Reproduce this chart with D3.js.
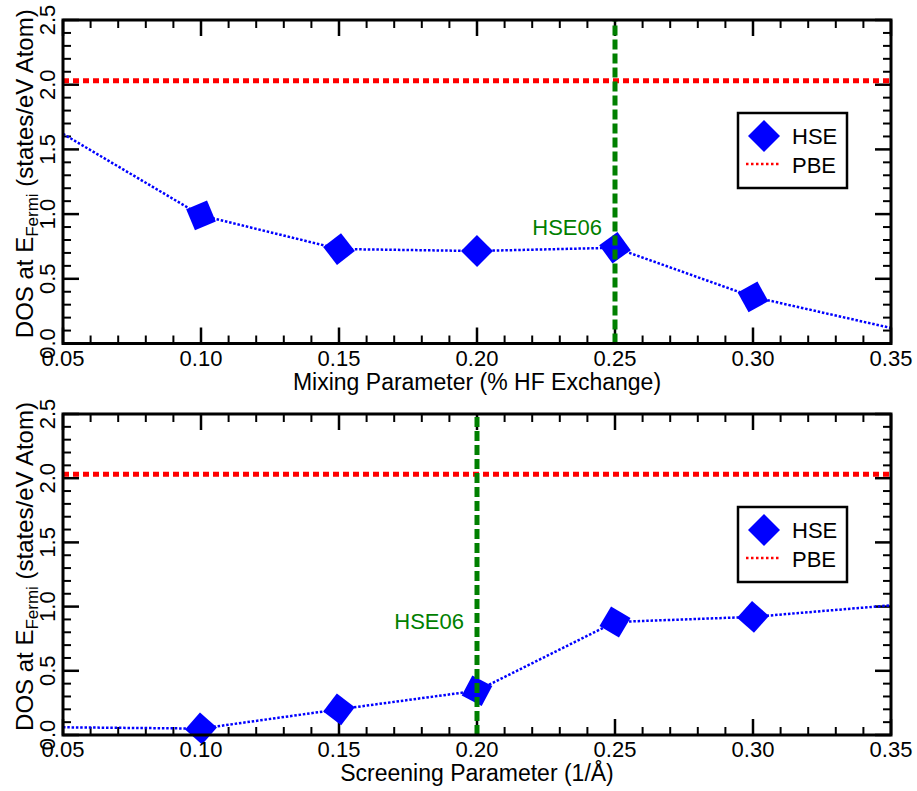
<!DOCTYPE html>
<html>
<head>
<meta charset="utf-8">
<script src="https://cdn.jsdelivr.net/npm/d3@7"></script>
<style>
  html, body { margin: 0; padding: 0; background: #fff; }
  svg { display: block; font-family: "Liberation Sans", Arial, Helvetica, sans-serif; }
</style>
</head>
<body>
<svg id="chart" width="917" height="791"></svg>
<script>
// Parameter values shared by both scans
const xValues = [0.05, 0.10, 0.15, 0.20, 0.25, 0.30, 0.35];
// DOS at the Fermi level, HSE, vs mixing parameter
const hseMixing = [1.62, 0.99, 0.73, 0.715, 0.74, 0.36, 0.12];
// DOS at the Fermi level, HSE, vs screening parameter
const hseScreening = [0.06, 0.05, 0.20, 0.345, 0.88, 0.92, 1.01];
// PBE reference level
const pbeMixing = 2.03;
const pbeScreening = 2.03;
// HSE06 standard settings
const hse06Mixing = 0.25;
const hse06Screening = 0.20;
// Axis ticks
const xMajorTicks = [0.05, 0.10, 0.15, 0.20, 0.25, 0.30, 0.35];
const yMajorTicks = [0.0, 0.5, 1.0, 1.5, 2.0, 2.5];
const xTickLabels = ["0.05", "0.10", "0.15", "0.20", "0.25", "0.30", "0.35"];
const yTickLabels = ["0.0", "0.5", "1.0", "1.5", "2.0", "2.5"];
const seriesNames = ["HSE", "PBE"];
const markerLabel = "HSE06";

const svg = d3.select("#chart");
const BLUE = "#0000ff", RED = "#ff0000", GREEN = "#008000";

const left = 63, right = 891;

function drawPanel(cfg) {
  const x = d3.scaleLinear().domain([0.05, 0.35]).range([left, right]);
  const y = d3.scaleLinear().domain([0, 2.5]).range([cfg.bottom, cfg.top]);
  const g = svg.append("g");

  // minor / major tick sets
  const xMinor = d3.range(5, 36).map(d => d / 100);
  const yMinor = d3.range(0, 26).map(d => d / 10);

  const ticks = g.append("g").attr("stroke", "#000");
  // bottom + top ticks (inward)
  xMinor.forEach(v => {
    const major = xMajorTicks.some(m => Math.abs(m - v) < 1e-9);
    const len = major ? 16 : 8;
    ticks.append("line").attr("x1", x(v)).attr("x2", x(v))
      .attr("y1", y(0)).attr("y2", y(0) - len).attr("stroke-width", major ? 2.5 : 2);
    ticks.append("line").attr("x1", x(v)).attr("x2", x(v))
      .attr("y1", y(2.5)).attr("y2", y(2.5) + len).attr("stroke-width", major ? 2.5 : 2);
  });
  yMinor.forEach(v => {
    const major = yMajorTicks.some(m => Math.abs(m - v) < 1e-9);
    const len = major ? 16 : 8;
    ticks.append("line").attr("y1", y(v)).attr("y2", y(v))
      .attr("x1", x(0.05)).attr("x2", x(0.05) + len).attr("stroke-width", major ? 2.5 : 2);
    ticks.append("line").attr("y1", y(v)).attr("y2", y(v))
      .attr("x1", x(0.35)).attr("x2", x(0.35) - len).attr("stroke-width", major ? 2.5 : 2);
  });

  // PBE reference line
  g.append("line")
    .attr("x1", x(0.05)).attr("x2", x(0.35))
    .attr("y1", y(cfg.pbe)).attr("y2", y(cfg.pbe))
    .attr("stroke", RED).attr("stroke-width", 5)
    .attr("stroke-dasharray", "6,4");

  // HSE curve
  const pts = xValues.map((v, i) => [x(v), y(cfg.hse[i])]);
  g.append("path")
    .attr("d", d3.line()(pts))
    .attr("fill", "none").attr("stroke", BLUE)
    .attr("stroke-width", 2.5).attr("stroke-dasharray", "2.5,1.8");

  // HSE markers: squares oriented along the local direction of the curve
  const sym = d3.symbol().type(d3.symbolSquare).size(512);
  xValues.forEach((v, i) => {
    if (i === 0 || i === xValues.length - 1) return;
    const a1 = Math.atan2(pts[i][1] - pts[i - 1][1], pts[i][0] - pts[i - 1][0]);
    const a2 = Math.atan2(pts[i + 1][1] - pts[i][1], pts[i + 1][0] - pts[i][0]);
    const ang = (a1 + a2) / 2 * 180 / Math.PI;
    g.append("path")
      .attr("d", sym())
      .attr("fill", BLUE)
      .attr("transform", `translate(${pts[i][0]},${pts[i][1]}) rotate(${45 + ang})`);
  });

  // HSE06 marker line
  g.append("line")
    .attr("x1", x(cfg.hse06)).attr("x2", x(cfg.hse06))
    .attr("y1", y(0)).attr("y2", y(2.5))
    .attr("stroke", GREEN).attr("stroke-width", 5)
    .attr("stroke-dasharray", "10,4");
  g.append("text")
    .attr("x", x(cfg.hse06) - 13).attr("y", cfg.labelY)
    .attr("text-anchor", "end").attr("font-size", 22)
    .attr("fill", GREEN).text(markerLabel);

  // frame
  g.append("rect")
    .attr("x", x(0.05)).attr("y", y(2.5))
    .attr("width", x(0.35) - x(0.05)).attr("height", y(0) - y(2.5))
    .attr("fill", "none").attr("stroke", "#000").attr("stroke-width", 3);

  // tick labels
  xMajorTicks.forEach((v, i) => {
    g.append("text").attr("x", x(v)).attr("y", y(0) + 22)
      .attr("text-anchor", "middle").attr("font-size", 22)
      .text(xTickLabels[i]);
  });
  yMajorTicks.forEach((v, i) => {
    g.append("text")
      .attr("transform", `translate(55,${y(v)}) rotate(-90)`)
      .attr("text-anchor", "middle").attr("font-size", 22)
      .text(yTickLabels[i]);
  });

  // axis titles
  g.append("text")
    .attr("x", (left + right) / 2).attr("y", y(0) + 46)
    .attr("text-anchor", "middle").attr("font-size", 23)
    .text(cfg.xTitle);
  const yt = g.append("text")
    .attr("transform", `translate(33,${(cfg.top + cfg.bottom) / 2 - 8}) rotate(-90)`)
    .attr("text-anchor", "middle").attr("font-size", 24);
  yt.append("tspan").text("DOS at E");
  yt.append("tspan").attr("font-size", 17).attr("dy", 5).text("Fermi");
  yt.append("tspan").attr("dy", -5).text(" (states/eV Atom)");

  // legend
  const lx = 738, ly = cfg.top + 93;
  const lg = g.append("g");
  lg.append("rect").attr("x", lx).attr("y", ly).attr("width", 109).attr("height", 75)
    .attr("fill", "#fff").attr("stroke", "#000").attr("stroke-width", 2.5);
  lg.append("path").attr("d", sym())
    .attr("fill", BLUE)
    .attr("transform", `translate(${lx + 26},${ly + 23}) rotate(45)`);
  lg.append("line").attr("x1", lx + 8).attr("x2", lx + 42)
    .attr("y1", ly + 51).attr("y2", ly + 51)
    .attr("stroke", RED).attr("stroke-width", 2.5).attr("stroke-dasharray", "2.5,2.5");
  lg.append("text").attr("x", lx + 54).attr("y", ly + 31).attr("font-size", 22).text(seriesNames[0]);
  lg.append("text").attr("x", lx + 54).attr("y", ly + 60).attr("font-size", 22).text(seriesNames[1]);
}

drawPanel({
  top: 20, bottom: 343.5, hse: hseMixing, pbe: pbeMixing, hse06: hse06Mixing,
  labelY: 235, xTitle: "Mixing Parameter (% HF Exchange)"
});
drawPanel({
  top: 414, bottom: 735, hse: hseScreening, pbe: pbeScreening, hse06: hse06Screening,
  labelY: 629, xTitle: "Screening Parameter (1/Å)"
});
</script>
</body>
</html>
